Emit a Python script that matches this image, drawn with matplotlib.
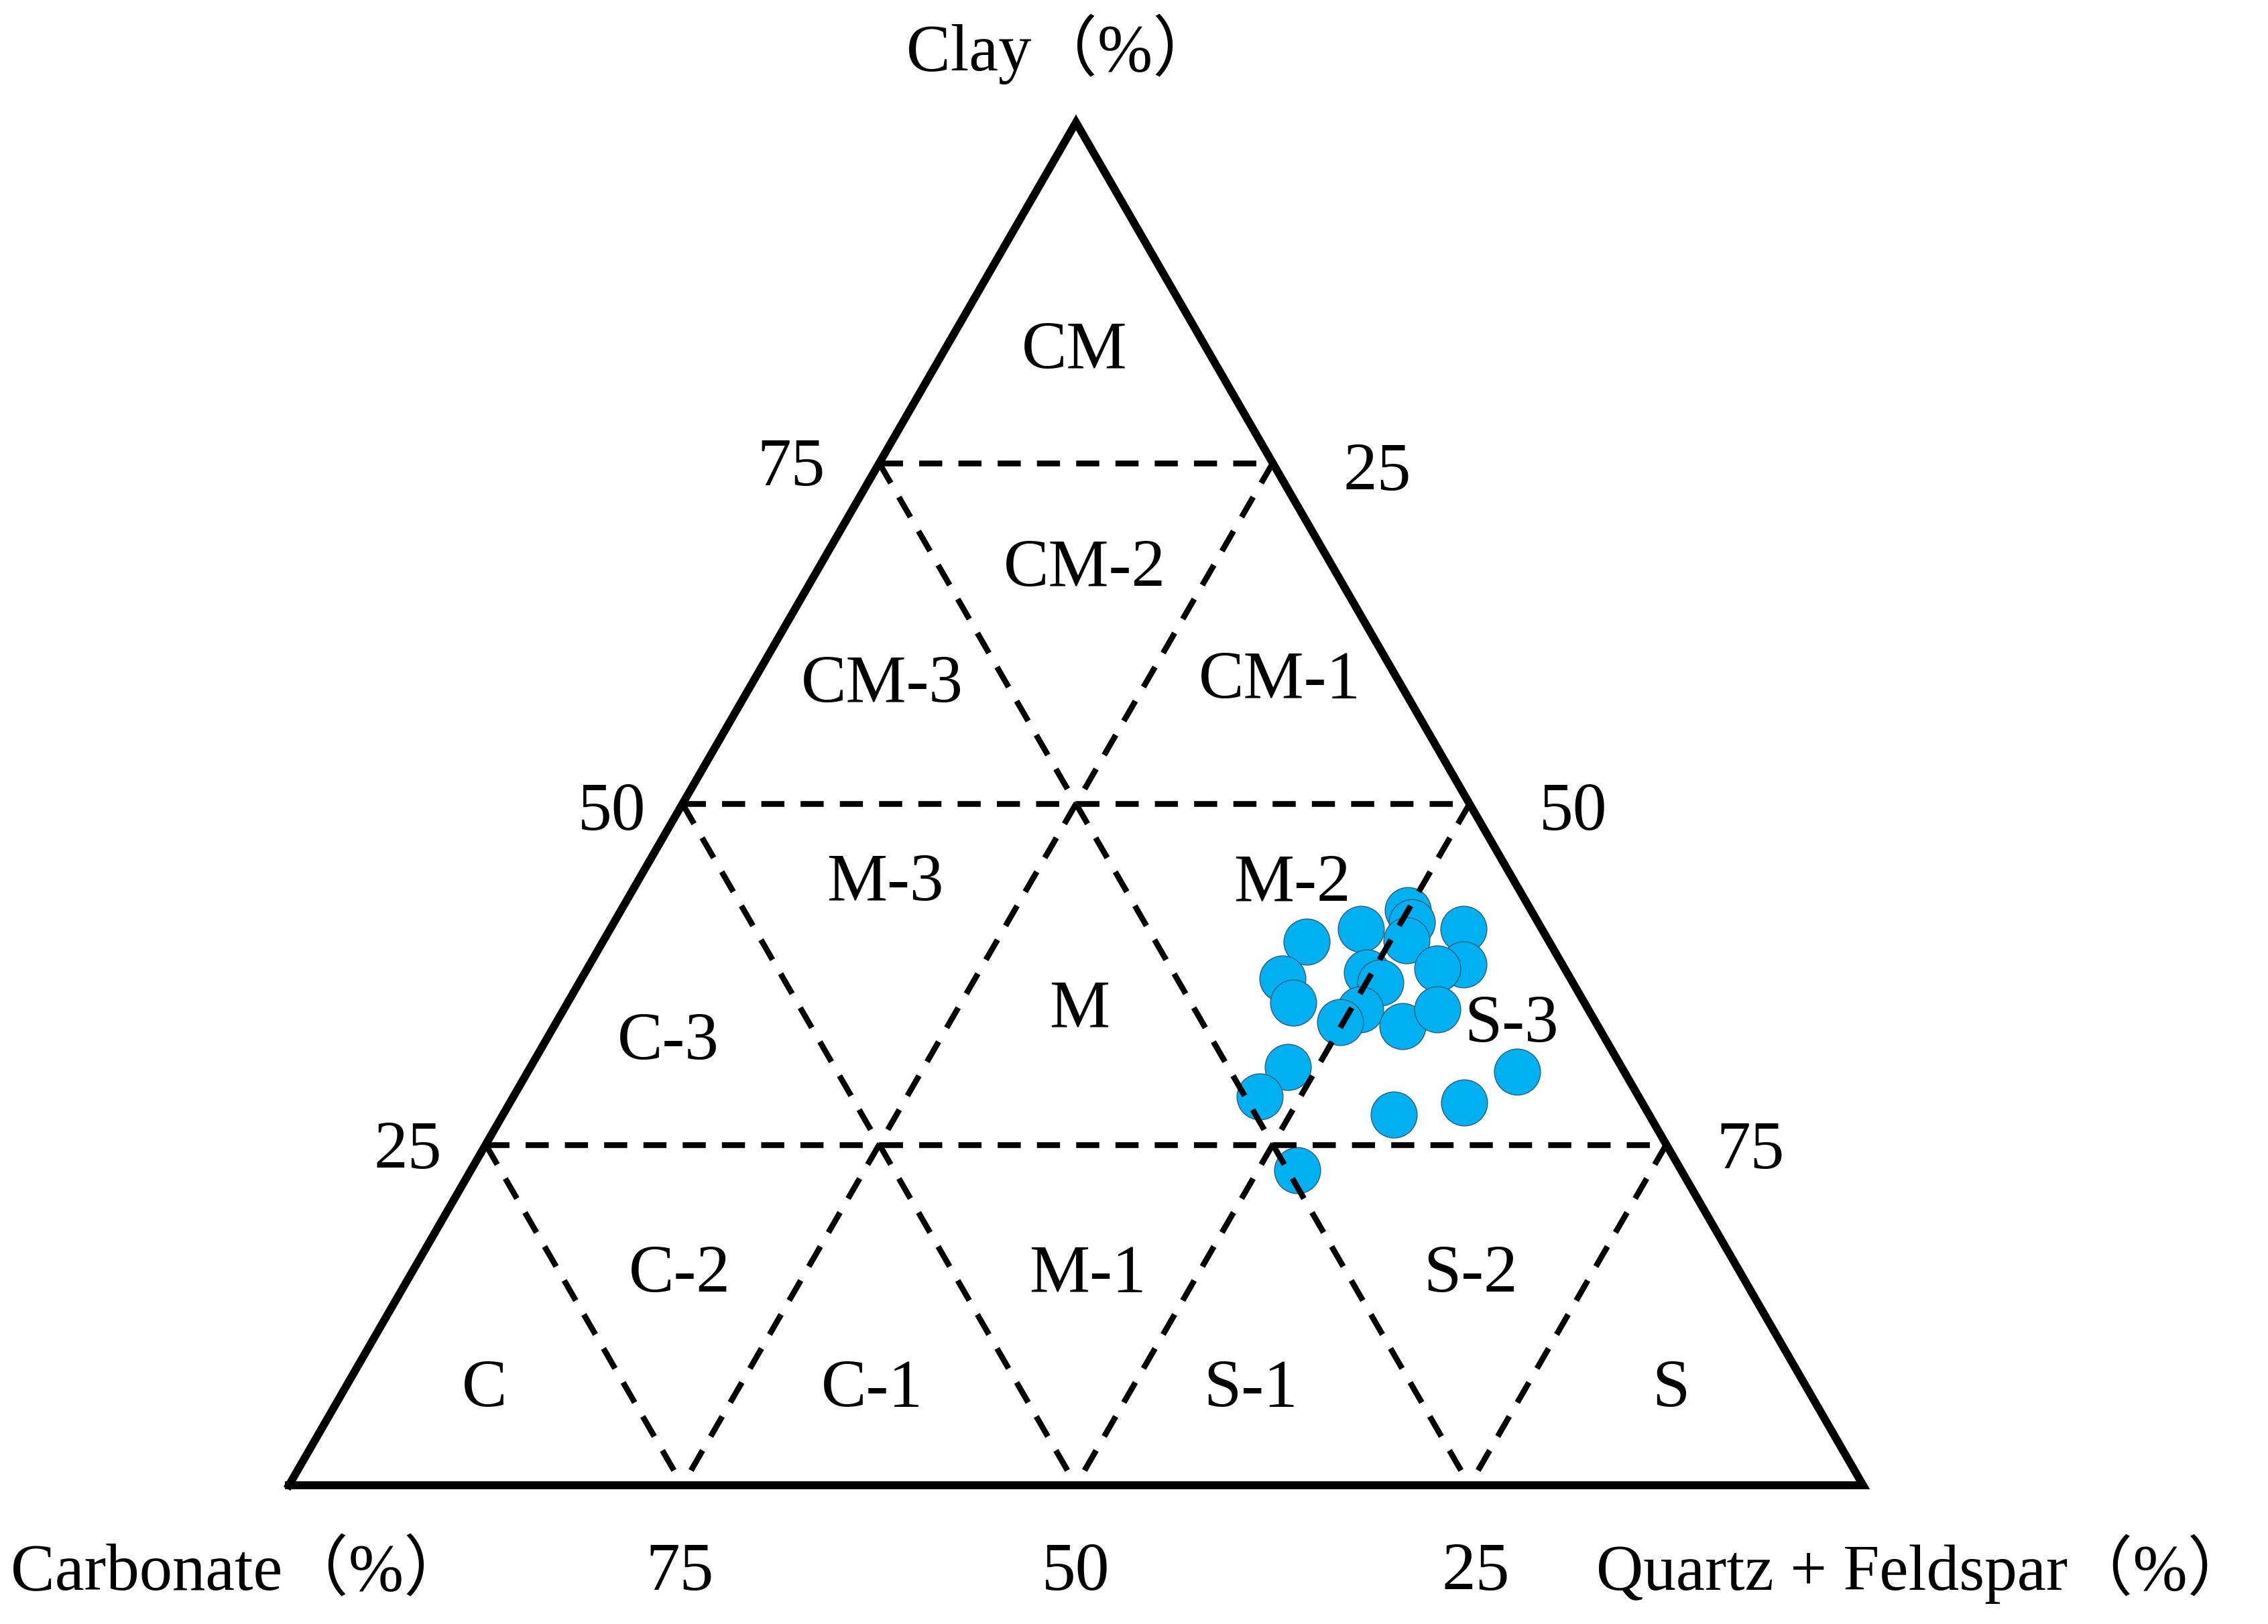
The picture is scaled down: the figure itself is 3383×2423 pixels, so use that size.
import numpy as np
import matplotlib
matplotlib.use("Agg")
import matplotlib.pyplot as plt

W, H, DPI = 3383, 2423, 100

# ---------------- data (percent) ----------------
clay      = [39.9, 40.8, 42.2, 41.3, 40.0, 40.8, 38.2, 37.9, 37.2, 35.4, 37.6,
             36.9, 34.9, 34.0, 33.7, 34.9, 30.7, 28.5, 27.2, 28.1, 30.4, 23.1]
carbonate = [15.4, 11.5, 7.8, 8.0, 9.0, 5.0, 6.3, 8.1, 18.3, 18.5, 12.7,
             12.2, 14.5, 16.2, 12.4, 9.6, 21.2, 24.1, 16.2, 11.3, 6.8, 24.4]
quartz_feldspar = [44.7, 47.7, 50.0, 50.7, 51.0, 54.2, 55.5, 54.0, 44.5, 46.1, 49.7,
                   50.9, 50.6, 49.8, 53.9, 55.5, 48.1, 47.4, 56.6, 60.6, 63.0, 52.5]

grid_levels = [25, 50, 75]
bottom_ticks = [75, 50, 25]      # carbonate values along the base
left_ticks = [75, 50, 25]        # clay values along the left side
right_ticks = [25, 50, 75]       # quartz+feldspar values along the right side

region_names = ["CM", "CM-2", "CM-3", "CM-1", "M-3", "M-2", "M", "C-3", "S-3",
                "C-2", "M-1", "S-2", "C", "C-1", "S-1", "S"]

# ---------------- helpers ----------------
def tern_to_xy(c, k, q):
    """clay c (top), carbonate k (bottom-left), quartz+feldspar q (bottom-right)"""
    c = np.asarray(c, float); k = np.asarray(k, float); q = np.asarray(q, float)
    s = c + k + q
    c, q = c / s, q / s
    x = q + c / 2.0
    y = c * np.sqrt(3) / 2.0
    return x, y

# pixel layout of the triangle
BLx, BLy, SIDE = 431, 2216, 2348

fig = plt.figure(figsize=(W / DPI, H / DPI), dpi=DPI)
ax = fig.add_axes([0, 0, 1, 1])
ax.set_xlim(-BLx / SIDE, (W - BLx) / SIDE)
ax.set_ylim((BLy - H) / SIDE, BLy / SIDE)
ax.axis("off")

serif = ["Liberation Serif", "Noto Sans CJK SC", "DejaVu Serif"]
FS = 73

def ftext(px, py, s, ha="center", va="baseline", fs=FS):
    fig.text(px / W, 1 - py / H, s, ha=ha, va=va, fontsize=fs, family=serif, color="black")

# ---------------- data points ----------------
px_, py_ = tern_to_xy(clay, carbonate, quartz_feldspar)
ax.scatter(px_, py_, s=2450, c="#00B0F0", edgecolors="#2b5d7d", linewidths=1.0, zorder=2)

# ---------------- dashed interior grid (segment by segment) ----------------
dash_kw = dict(color="black", lw=6.2, linestyle=(0, (4.0, 2.8)), zorder=3,
               dash_capstyle="butt", solid_capstyle="butt")
step = 25
for lv in grid_levels:
    # constant clay
    qs = list(range(0, 100 - lv + 1, step))
    for a, b in zip(qs[:-1], qs[1:]):
        x, y = tern_to_xy([lv, lv], [100 - lv - a, 100 - lv - b], [a, b])
        ax.plot(x, y, **dash_kw)
    # constant quartz+feldspar
    cs = list(range(0, 100 - lv + 1, step))
    for a, b in zip(cs[:-1], cs[1:]):
        x, y = tern_to_xy([b, a], [100 - lv - b, 100 - lv - a], [lv, lv])
        ax.plot(x, y, **dash_kw)
    # constant carbonate
    for a, b in zip(cs[:-1], cs[1:]):
        x, y = tern_to_xy([b, a], [lv, lv], [100 - lv - b, 100 - lv - a])
        ax.plot(x, y, **dash_kw)

# ---------------- outline ----------------
ox, oy = tern_to_xy([0, 0, 100, 0], [100, 0, 0, 100], [0, 100, 0, 0])
ax.plot(ox, oy, color="black", lw=8.5, solid_joinstyle="miter", zorder=4)

# ---------------- tick labels ----------------
for val, x in zip(bottom_ticks, [1014, 1605, 2201]):
    ftext(x, 2372, str(val))
for val, (x, y) in zip(left_ticks, [(1180, 724), (913, 1238), (608, 1743)]):
    ftext(x, y, str(val))
for val, (x, y) in zip(right_ticks, [(2054, 731), (2347, 1238), (2611, 1743)]):
    ftext(x, y, str(val))

# ---------------- axis titles ----------------
ftext(1585, 105, "Clay（%）", fs=71)
ftext(358, 2372, "Carbonate（%）", fs=71)
ftext(2870, 2372, "Quartz + Feldspar（%）", fs=70)

# ---------------- region labels ----------------
region_pos = [(1603, 550), (1618, 875), (1316, 1048), (1909, 1042), (1320, 1344),
              (1927, 1344), (1610, 1533), (997, 1581), (2255, 1555), (1014, 1928),
              (1622, 1928), (2194, 1928), (723, 2099), (1301, 2099), (1866, 2099),
              (2492, 2099)]
for name, (x, y) in zip(region_names, region_pos):
    ftext(x, y, name)

fig.savefig("out.png", dpi=DPI, facecolor="white")
